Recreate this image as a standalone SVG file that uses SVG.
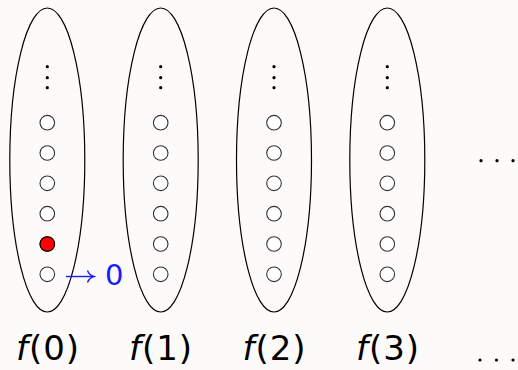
<svg xmlns="http://www.w3.org/2000/svg" width="518" height="370" viewBox="0 0 518 370">
<defs>
<style>
.set{fill:none;stroke:#000;stroke-width:1.2}
.pt{fill:#fff;stroke:#333;stroke-width:1.1}
.red{fill:#f00;stroke:#000;stroke-width:1.1}
.dot{fill:#000}
.lbl{font-family:"DejaVu Sans",sans-serif;font-size:34px;fill:#000;letter-spacing:1px}
.blue{font-family:"DejaVu Sans",sans-serif;font-size:29px;fill:#1a1aff}
</style>
<g id="col">
<ellipse class="set" cx="0" cy="160" rx="37.5" ry="152"/>
<circle class="dot" cx="0" cy="66.7" r="1.6"/>
<circle class="dot" cx="0" cy="77.7" r="1.6"/>
<circle class="dot" cx="0" cy="87.7" r="1.6"/>
<circle class="pt" cx="0" cy="122.7" r="7.3"/>
<circle class="pt" cx="0" cy="153" r="7.3"/>
<circle class="pt" cx="0" cy="183.3" r="7.3"/>
<circle class="pt" cx="0" cy="213.7" r="7.3"/>
<circle class="pt" cx="0" cy="244" r="7.3"/>
<circle class="pt" cx="0" cy="274.3" r="7.3"/>
</g>
</defs>
<rect width="518" height="370" fill="#fdfbfa"/>
<g id="f0">
<use href="#col" x="47.3"/>
<circle class="red" cx="47.3" cy="244" r="7.3"/>
<text class="lbl" x="48" y="360" text-anchor="middle"><tspan font-style="italic">f</tspan>(0)</text>
</g>
<g id="f1">
<use href="#col" x="160.7"/>
<text class="lbl" x="161" y="360" text-anchor="middle"><tspan font-style="italic">f</tspan>(1)</text>
</g>
<g id="f2">
<use href="#col" x="274"/>
<text class="lbl" x="274.5" y="360" text-anchor="middle"><tspan font-style="italic">f</tspan>(2)</text>
</g>
<g id="f3">
<use href="#col" x="387.3"/>
<text class="lbl" x="388" y="360" text-anchor="middle"><tspan font-style="italic">f</tspan>(3)</text>
</g>
<g id="more">
<circle class="dot" cx="481" cy="160.7" r="1.6"/>
<circle class="dot" cx="497" cy="160.7" r="1.6"/>
<circle class="dot" cx="513" cy="160.7" r="1.6"/>
<circle class="dot" cx="480" cy="360" r="1.6"/>
<circle class="dot" cx="496.5" cy="360" r="1.6"/>
<circle class="dot" cx="513" cy="360" r="1.6"/>
</g>
<g id="connectors">
<line x1="66" y1="276.5" x2="93" y2="276.5" stroke="#1a1aff" stroke-width="1.4"/>
<path d="M87.5,270.5 Q89,275 94,276.5 Q89,278 87.5,282.5" fill="none" stroke="#1a1aff" stroke-width="1.4"/>
<text class="blue" x="105" y="285">0</text>
</g>
</svg>
